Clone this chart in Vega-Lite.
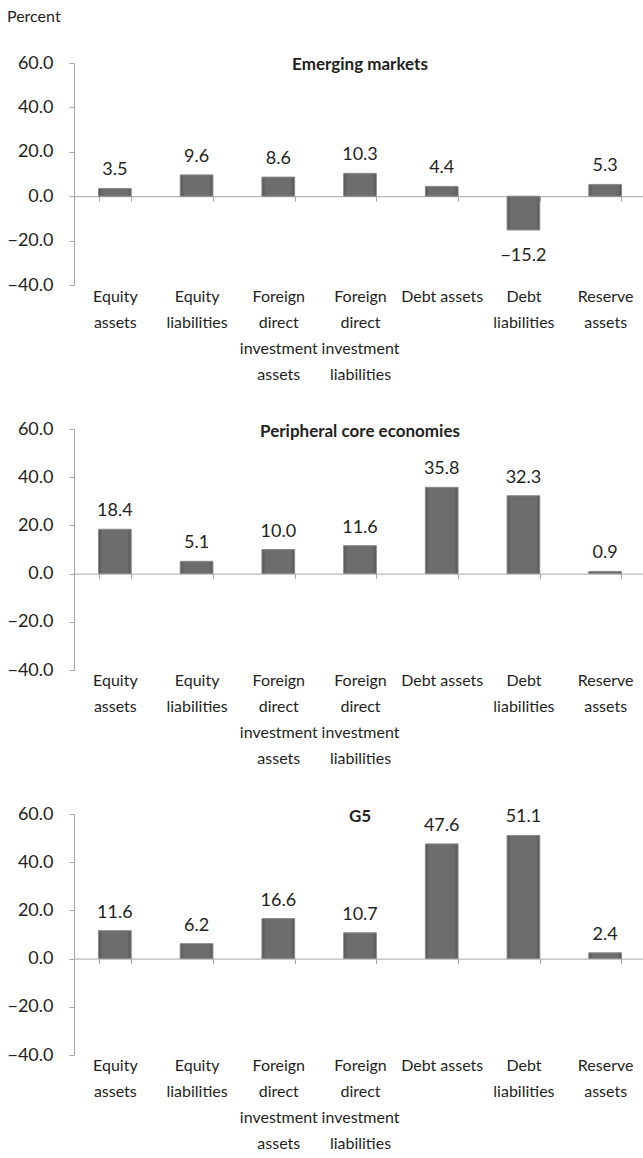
{
  "$schema": "https://vega.github.io/schema/vega-lite/v6.json",
  "background": "white",
  "padding": {"left": 6, "top": 9, "right": 0, "bottom": 4},
  "title": {"text": "Percent", "anchor": "start", "frame": "bounds", "fontSize": 16, "fontWeight": "normal", "color": "#231f20", "font": "Lato", "offset": 29},
  "config": {
    "font": "Lato",
    "view": {"stroke": null},
    "axis": {"labelFont": "Lato", "labelColor": "#231f20", "domainColor": "#a6a6a6", "tickColor": "#a6a6a6", "grid": false, "title": null},
    "title": {"font": "Lato", "fontSize": 17, "fontWeight": "bold", "color": "#231f20"}
  },
  "datasets": {
    "flows": [
      {"panel": "Emerging markets", "category": "Equity assets", "value": 3.5},
      {"panel": "Emerging markets", "category": "Equity liabilities", "value": 9.6},
      {"panel": "Emerging markets", "category": "Foreign direct investment assets", "value": 8.6},
      {"panel": "Emerging markets", "category": "Foreign direct investment liabilities", "value": 10.3},
      {"panel": "Emerging markets", "category": "Debt assets", "value": 4.4},
      {"panel": "Emerging markets", "category": "Debt liabilities", "value": -15.2},
      {"panel": "Emerging markets", "category": "Reserve assets", "value": 5.3},
      {"panel": "Peripheral core economies", "category": "Equity assets", "value": 18.4},
      {"panel": "Peripheral core economies", "category": "Equity liabilities", "value": 5.1},
      {"panel": "Peripheral core economies", "category": "Foreign direct investment assets", "value": 10.0},
      {"panel": "Peripheral core economies", "category": "Foreign direct investment liabilities", "value": 11.6},
      {"panel": "Peripheral core economies", "category": "Debt assets", "value": 35.8},
      {"panel": "Peripheral core economies", "category": "Debt liabilities", "value": 32.3},
      {"panel": "Peripheral core economies", "category": "Reserve assets", "value": 0.9},
      {"panel": "G5", "category": "Equity assets", "value": 11.6},
      {"panel": "G5", "category": "Equity liabilities", "value": 6.2},
      {"panel": "G5", "category": "Foreign direct investment assets", "value": 16.6},
      {"panel": "G5", "category": "Foreign direct investment liabilities", "value": 10.7},
      {"panel": "G5", "category": "Debt assets", "value": 47.6},
      {"panel": "G5", "category": "Debt liabilities", "value": 51.1},
      {"panel": "G5", "category": "Reserve assets", "value": 2.4}
    ]
  },
  "vconcat": [
    {
      "width": 572, "height": 222,
      "title": {"text": "Emerging markets", "anchor": "middle", "baseline": "alphabetic", "offset": -33},
      "data": {"name": "flows"},
      "transform": [{"filter": "datum.panel == 'Emerging markets'"}],
      "encoding": {
        "x": {"field": "category", "type": "nominal", "sort": null,
          "scale": {"paddingInner": 0.6, "paddingOuter": 0.3},
          "axis": {"orient": "bottom", "offset": -88.8, "labelAngle": 0, "tickBand": "extent", "tickSize": 5, "labelPadding": 87, "labelFontSize": 16, "labelLineHeight": 26, "labelLimit": 0,
            "labelExpr": "datum.label == 'Debt assets' ? 'Debt assets' : split(datum.label, ' ')"}},
        "y": {"field": "value", "type": "quantitative",
          "scale": {"domain": [-40, 60], "nice": false},
          "axis": {"values": [-40, -20, 0, 20, 40, 60], "format": ".1f", "tickSize": 5, "labelPadding": 16, "labelFontSize": 18}}
      },
      "layer": [
        {"mark": {"type": "bar", "stroke": "#8a8a8a", "strokeWidth": 1,
          "fill": {"gradient": "linear", "x1": 0, "x2": 1, "y1": 0, "y2": 0, "stops": [{"offset": 0, "color": "#555555"}, {"offset": 0.12, "color": "#6d6d6d"}, {"offset": 0.88, "color": "#6d6d6d"}, {"offset": 1, "color": "#555555"}]}}},
        {"transform": [{"filter": "datum.value >= 0"}],
          "mark": {"type": "text", "baseline": "alphabetic", "dy": -13, "fontSize": 18, "color": "#231f20"},
          "encoding": {"text": {"field": "value", "type": "quantitative", "format": ".1f"}}},
        {"transform": [{"filter": "datum.value < 0"}],
          "mark": {"type": "text", "baseline": "top", "dy": 17, "fontSize": 18, "color": "#231f20"},
          "encoding": {"text": {"field": "value", "type": "quantitative", "format": ".1f"}}}
      ]
    },
    {
      "width": 572, "height": 241,
      "title": {"text": "Peripheral core economies", "anchor": "middle", "baseline": "alphabetic", "offset": -34},
      "data": {"name": "flows"},
      "transform": [{"filter": "datum.panel == 'Peripheral core economies'"}],
      "encoding": {
        "x": {"field": "category", "type": "nominal", "sort": null,
          "scale": {"paddingInner": 0.6, "paddingOuter": 0.3},
          "axis": {"orient": "bottom", "offset": -96.4, "labelAngle": 0, "tickBand": "extent", "tickSize": 5, "labelPadding": 94, "labelFontSize": 16, "labelLineHeight": 26, "labelLimit": 0,
            "labelExpr": "datum.label == 'Debt assets' ? 'Debt assets' : split(datum.label, ' ')"}},
        "y": {"field": "value", "type": "quantitative",
          "scale": {"domain": [-40, 60], "nice": false},
          "axis": {"values": [-40, -20, 0, 20, 40, 60], "format": ".1f", "tickSize": 5, "labelPadding": 16, "labelFontSize": 18}}
      },
      "layer": [
        {"mark": {"type": "bar", "stroke": "#8a8a8a", "strokeWidth": 1,
          "fill": {"gradient": "linear", "x1": 0, "x2": 1, "y1": 0, "y2": 0, "stops": [{"offset": 0, "color": "#555555"}, {"offset": 0.12, "color": "#6d6d6d"}, {"offset": 0.88, "color": "#6d6d6d"}, {"offset": 1, "color": "#555555"}]}}},
        {"transform": [{"filter": "datum.value >= 0"}],
          "mark": {"type": "text", "baseline": "alphabetic", "dy": -13, "fontSize": 18, "color": "#231f20"},
          "encoding": {"text": {"field": "value", "type": "quantitative", "format": ".1f"}}}
      ]
    },
    {
      "width": 572, "height": 241,
      "title": {"text": "G5", "anchor": "middle", "baseline": "alphabetic", "offset": -34},
      "data": {"name": "flows"},
      "transform": [{"filter": "datum.panel == 'G5'"}],
      "encoding": {
        "x": {"field": "category", "type": "nominal", "sort": null,
          "scale": {"paddingInner": 0.6, "paddingOuter": 0.3},
          "axis": {"orient": "bottom", "offset": -96.4, "labelAngle": 0, "tickBand": "extent", "tickSize": 5, "labelPadding": 94, "labelFontSize": 16, "labelLineHeight": 26, "labelLimit": 0,
            "labelExpr": "datum.label == 'Debt assets' ? 'Debt assets' : split(datum.label, ' ')"}},
        "y": {"field": "value", "type": "quantitative",
          "scale": {"domain": [-40, 60], "nice": false},
          "axis": {"values": [-40, -20, 0, 20, 40, 60], "format": ".1f", "tickSize": 5, "labelPadding": 16, "labelFontSize": 18}}
      },
      "layer": [
        {"mark": {"type": "bar", "stroke": "#8a8a8a", "strokeWidth": 1,
          "fill": {"gradient": "linear", "x1": 0, "x2": 1, "y1": 0, "y2": 0, "stops": [{"offset": 0, "color": "#555555"}, {"offset": 0.12, "color": "#6d6d6d"}, {"offset": 0.88, "color": "#6d6d6d"}, {"offset": 1, "color": "#555555"}]}}},
        {"transform": [{"filter": "datum.value >= 0"}],
          "mark": {"type": "text", "baseline": "alphabetic", "dy": -13, "fontSize": 18, "color": "#231f20"},
          "encoding": {"text": {"field": "value", "type": "quantitative", "format": ".1f"}}}
      ]
    }
  ],
  "spacing": 144,
  "bounds": "flush"
}
